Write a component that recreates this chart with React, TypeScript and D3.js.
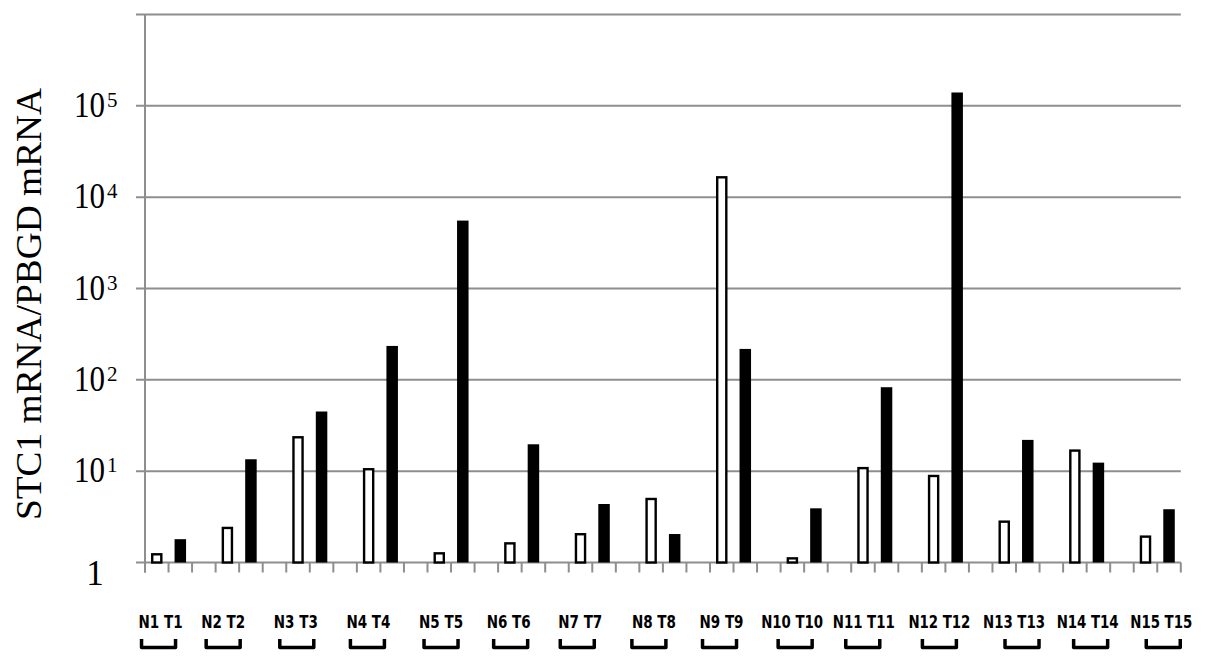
import React from "react";
import * as d3 from "d3";

const pairs = ["1","2","3","4","5","6","7","8","9","10","11","12","13","14","15"];
const normalValues = [1.23, 2.39, 23.5, 10.5, 1.26, 1.62, 2.04, 4.96, 16500, 1.11, 10.8, 8.86, 2.8, 16.8, 1.92];
const tumorValues = [1.8, 13.5, 45, 235, 5540, 19.7, 4.37, 2.05, 218, 3.92, 83, 140000, 22, 12.4, 3.83];
const yTickExponents = [1, 2, 3, 4, 5];
const yLabel = "STC1 mRNA/PBGD mRNA";
// layout nudges of the hand-placed pair captions and brackets (px)
const labelNudge = [-8, -16, -14, -12, -10, -13, -12, -9, -12, -12, -11, -6, -2, 1, 4];
const bracketNudge = [-10, -16, -13, -13, -10, -11, -15, -14, -14, -9, -12, -6, 6, 4, 6];

const W = 1205, H = 661;
const GRID = "#8e8e8e";

export default function App() {
  const cats: string[] = [];
  pairs.forEach((p, i) => {
    cats.push("N" + p, "T" + p);
    if (i < pairs.length - 1) cats.push("gap" + p);
  });
  const x = d3.scaleBand<string>().domain(cats).range([145, 1180.8]).padding(0);
  const y = d3.scaleLog().domain([1, 1e6]).range([562.5, 14.5]);
  const bw = x.bandwidth();
  const barW = 11.5;
  const tickXs = cats.map((c) => x(c)!).concat([x.range()[1]]);
  const gridVals = [10, 100, 1000, 1e4, 1e5, 1e6];

  return (
    <svg width={W} height={H} style={{ position: "absolute", left: 0, top: 0, background: "#fff" }}>
      <rect x={0} y={0} width={W} height={H} fill="#fff" />
      {/* grid lines */}
      {gridVals.map((v) => (
        <line key={v} x1={136} x2={x.range()[1]} y1={y(v)} y2={y(v)} stroke={GRID} strokeWidth={2} />
      ))}
      {/* y axis */}
      <line x1={145} x2={145} y1={y(1e6)} y2={572.5} stroke={GRID} strokeWidth={2} />
      {/* x axis */}
      <line x1={136} x2={x.range()[1]} y1={y(1)} y2={y(1)} stroke={GRID} strokeWidth={2} />
      {tickXs.map((tx, i) => (
        <line key={i} x1={tx} x2={tx} y1={y(1)} y2={y(1) + 10} stroke={GRID} strokeWidth={2} />
      ))}
      {/* bars */}
      {pairs.map((p, i) => {
        const nx = x("N" + p)! + bw / 2;
        const tx = x("T" + p)! + bw / 2;
        const ny = y(normalValues[i]);
        const ty = y(tumorValues[i]);
        return (
          <g key={p}>
            <rect x={nx - barW / 2 + 1.2} y={ny} width={barW - 2.4} height={y(1) - ny}
              fill="#fff" stroke="#000" strokeWidth={2.4} />
            <rect x={tx - barW / 2} y={ty} width={barW} height={y(1) - ty} fill="#000" />
          </g>
        );
      })}
      {/* y tick labels */}
      {yTickExponents.map((e) => (
        <g key={e}>
          <text x={74} y={y(Math.pow(10, e)) + 11} fontFamily="'Liberation Serif', serif" fontSize={35}
            textLength={31} lengthAdjust="spacingAndGlyphs" fill="#000">10</text>
          <text x={107} y={y(Math.pow(10, e)) + 1} fontFamily="'Liberation Serif', serif" fontSize={21} fill="#000">
            {String(e)}
          </text>
        </g>
      ))}
      <text x={95} y={585} fontFamily="'Liberation Serif', serif" fontSize={35} textAnchor="middle" fill="#000">1</text>
      {/* y axis title */}
      <text transform={`translate(41,304) rotate(-90)`} textAnchor="middle" fontFamily="'Liberation Serif', serif"
        fontSize={35} textLength={432} lengthAdjust="spacingAndGlyphs" fill="#000">{yLabel}</text>
      {/* pair captions and brackets */}
      {pairs.map((p, i) => {
        const mid = x("T" + p)!;
        const label = `N${p} T${p}`;
        const lw = p.length > 1 ? 62 : 44;
        const cx = mid + labelNudge[i];
        const bx = mid + bracketNudge[i];
        return (
          <g key={"l" + p}>
            <text x={cx} y={628} textAnchor="middle" fontFamily="'DejaVu Sans Condensed', 'DejaVu Sans', sans-serif"
              fontWeight="bold" fontSize={17} textLength={lw} lengthAdjust="spacingAndGlyphs" fill="#000">{label}</text>
            <path d={`M${bx - 17},639 V647.5 H${bx + 17} V639`} fill="none" stroke="#000" strokeWidth={3.5}
              strokeLinejoin="round" />
          </g>
        );
      })}
    </svg>
  );
}
